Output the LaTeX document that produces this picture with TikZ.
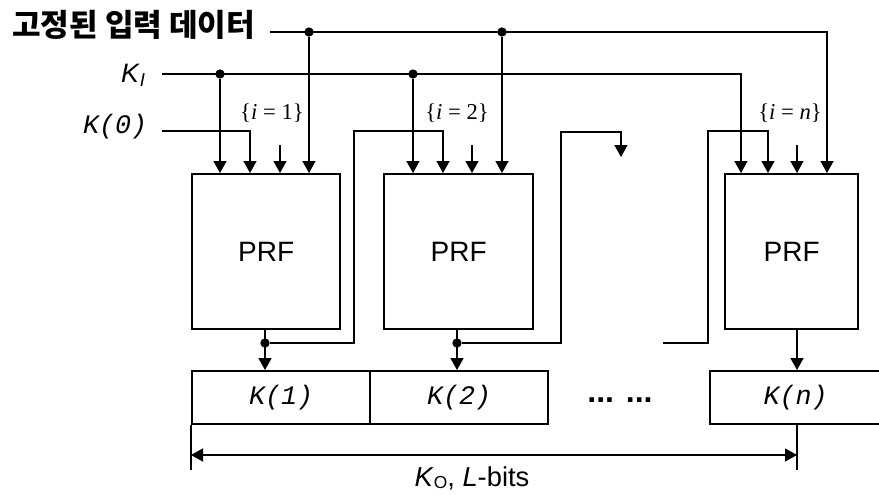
\documentclass[tikz,border=0pt]{standalone}
\usepackage{fontspec}
\setmainfont{Liberation Sans}
\setmonofont{Liberation Mono}
\newfontfamily\serifface{Liberation Serif}
\newfontfamily\korface{Noto Sans CJK KR}
\usetikzlibrary{arrows.meta,positioning}

\tikzset{
  wire/.style={line width=1.1pt},
  feed/.style={wire, -{Triangle[width=9.75pt,length=9pt]}},
  prfbox/.style={draw, line width=1.8pt, minimum height=116.25pt, inner sep=0pt,
    font=\fontsize{21pt}{25pt}\selectfont},
  keycell/.style={draw, line width=1.8pt, minimum height=39.75pt, inner sep=0pt,
    font=\fontsize{20pt}{23pt}\selectfont\ttfamily\itshape},
  junction/.style={circle, fill, inner sep=0pt, minimum size=7pt},
  indexlabel/.style={font=\serifface\fontsize{17pt}{20pt}\selectfont},
}

\begin{document}
\begin{tikzpicture}[x=0.75pt, y=-0.75pt]
    \useasboundingbox (0,0) rectangle (879,494);

    % PRF blocks
    \node[prfbox, minimum width=111pt, anchor=north west] (prf1) at (191,173) {PRF};
    \node[prfbox, minimum width=111.75pt, anchor=north west] (prf2) at (383,173) {PRF};
    \node[prfbox, minimum width=99.75pt, anchor=north west] (prf3) at (724,173) {PRF};

    % output key cells
    \node[keycell, minimum width=133.5pt, anchor=north west] (k1) at (191,370) {K(1)};
    \node[keycell, minimum width=133.5pt, anchor=north west] (k2) at (369,370) {K(2)};
    \node[font=\bfseries\fontsize{24pt}{26pt}\selectfont] (kdots) at (620,400) {... ...};
    \node[keycell, minimum width=128.25pt, anchor=north west] (kn) at (709,370) {K(n)};

    % inputs and their labels
    \coordinate (datain) at (270,32);
    \coordinate (kiin) at (162,74);
    \coordinate (k0in) at (162,131);
    \node[anchor=base east, inner sep=0pt, font=\korface\bfseries\fontsize{23.3pt}{26pt}\selectfont]
        (datalab) at ([xshift=-11pt, yshift=-3.6pt]datain) {고정된 입력 데이터};
    \node[anchor=base east, inner sep=0pt, font=\fontsize{20pt}{23pt}\selectfont]
        (kilab) at ([xshift=-12pt, yshift=-6pt]kiin) {\textit{K}\textsubscript{\textit{I}}};
    \node[anchor=base east, inner sep=0pt, font=\fontsize{20pt}{23pt}\selectfont\ttfamily\itshape]
        (k0lab) at ([xshift=-11pt, yshift=-1.5pt]k0in) {K(0)};

    % fixed input data bus
    \draw[feed] (datain) -| (827,0 |- prf3.north);
    \node[junction] (d1) at (309,32) {};
    \node[junction] (d2) at (502,32) {};
    \draw[feed] (d1) -- (d1 |- prf1.north);
    \draw[feed] (d2) -- (d2 |- prf2.north);

    % K_I bus
    \draw[feed] (kiin) -| (741,0 |- prf3.north);
    \node[junction] (ki1) at (220,74) {};
    \node[junction] (ki2) at (413,74) {};
    \draw[feed] (ki1) -- (ki1 |- prf1.north);
    \draw[feed] (ki2) -- (ki2 |- prf2.north);

    % K(0) and counter inputs
    \draw[feed] (k0in) -| (250,0 |- prf1.north);
    \draw[feed] (280,145) -- (280,0 |- prf1.north);
    \draw[feed] (472,145) -- (472,0 |- prf2.north);
    \draw[feed] (797,145) -- (797,0 |- prf3.north);

    \node[indexlabel] (i1) at (272,113) {\{\textit{i} = 1\}};
    \node[indexlabel] (i2) at (457,113) {\{\textit{i} = 2\}};
    \node[indexlabel] (in) at (790,113) {\{\textit{i} = \textit{n}\}};

    % outputs and chaining
    \draw[feed] (265,0 |- prf1.south) -- (265,0 |- k1.north);
    \draw[feed] (457,0 |- prf2.south) -- (457,0 |- k2.north);
    \draw[feed] (797,0 |- prf3.south) -- (797,0 |- kn.north);
    \node[junction] (o1) at (265,343) {};
    \node[junction] (o2) at (457,343) {};
    \draw[feed] (o1) -| (354,131) -| (443,0 |- prf2.north);
    \draw[feed] (o2) -| (561,132) -| (621,157);
    \draw[feed] (663,343) -| (708,131) -| (768,0 |- prf3.north);

    % total length
    \coordinate (diml) at (191,455);
    \coordinate (dimr) at (797,455);
    \draw[line width=1.8pt] (191,425) -- (191,470);
    \draw[line width=1.8pt] (797,425) -- (797,470);
    \draw[wire, {Triangle[width=9.75pt,length=9pt]}-{Triangle[width=9.75pt,length=9pt]}] (diml) -- (dimr);
    \node[anchor=base, inner sep=0pt, font=\fontsize{20.5pt}{23pt}\selectfont]
        (kolab) at (472,486) {\textit{K}\raisebox{-0.2ex}{\fontsize{13pt}{14pt}\selectfont O}, \textit{L}-bits};
\end{tikzpicture}
\end{document}
